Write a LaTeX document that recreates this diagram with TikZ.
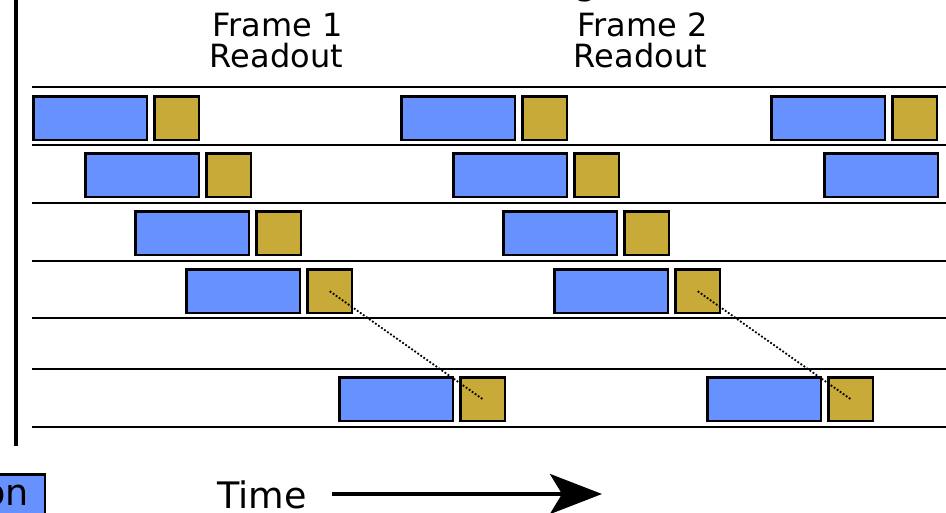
\documentclass[tikz,border=0pt]{standalone}
\usepackage{fontspec}
\setmainfont{DejaVu Sans}
\usetikzlibrary{arrows.meta}
\definecolor{expblue}{RGB}{102,145,255}
\definecolor{readgold}{RGB}{200,170,57}

% one exposure block followed by its readout block; #1 name, #2 left x, #3 top y
\newcommand\slotpair[3]{%
  \node[expo] (#1e) at ({#2+1.2},{#3+1.2}) {};
  \node[rdout] (#1r) at ({#2+122.2},{#3+1.2}) {};
}

\begin{document}
\begin{tikzpicture}[x=1pt,y=-1pt,
  expo/.style={draw=black, line width=2.5pt, fill=expblue, minimum width=113.6pt,
    minimum height=43.6pt, inner sep=0pt, anchor=north west},
  rdout/.style={draw=black, line width=2.5pt, fill=readgold, minimum width=44.6pt,
    minimum height=43.6pt, inner sep=0pt, anchor=north west},
  rowline/.style={line width=2.5pt},
  head/.style={font=\fontsize{32}{32}\selectfont, inner sep=0pt, anchor=base east},
  big/.style={font=\fontsize{36.5}{36.5}\selectfont, inner sep=0pt},
  link/.style={line width=1.8pt, dash pattern=on 1.8pt off 1.9pt},
]
\useasboundingbox (0,0) rectangle (946,513);

% partly visible title above the frame
\node[big, anchor=base] (ttl) at (586,-5) {g};

% frame labels
\node[head] (f1a) at (343,37) {Frame 1};
\node[head] (f1b) at (343,68) {Readout};
\node[head] (f2a) at (708,37) {Frame 2};
\node[head] (f2b) at (707,68) {Readout};

% left axis
\draw[line width=3.5pt] (16,-3) -- (16,446);

% row separators
\foreach \yy in {87,145,203,261,318,369,427}
  \draw[rowline] (32,\yy) -- (950,\yy);

% row 1
\slotpair{a1}{31}{94}
\slotpair{b1}{399}{94}
\slotpair{c1}{769}{94}
% row 2
\slotpair{a2}{83}{151}
\slotpair{b2}{451}{151}
\node[expo] (c2e) at (823.2,152.2) {};
% row 3
\slotpair{a3}{133}{209}
\slotpair{b3}{501}{209}
% row 4
\slotpair{a4}{184}{267}
\slotpair{b4}{552}{267}
% last row
\slotpair{a6}{337}{375}
\slotpair{b6}{705}{375}

% readouts linked across the skipped rows
\draw[link] (a4r.center) -- (a6r.center);
\draw[link] (b4r.center) -- (b6r.center);

% legend entry, partly visible
\node[draw=black, line width=2.5pt, fill=expblue, minimum width=90pt,
  minimum height=60pt, inner sep=0pt, anchor=north east] (leg) at (46,473) {};
\node[big, anchor=base east] (legt) at (29,505) {on};

% time axis
\node[big, anchor=base west] (tlab) at (217,508) {Time};
\coordinate (tstart) at (332,494);
\coordinate (tend) at (602,494);
\draw[line width=4pt, -{Stealth[length=52pt,width=40pt,inset=12pt]}] (tstart) -- (tend);
\end{tikzpicture}
\end{document}
